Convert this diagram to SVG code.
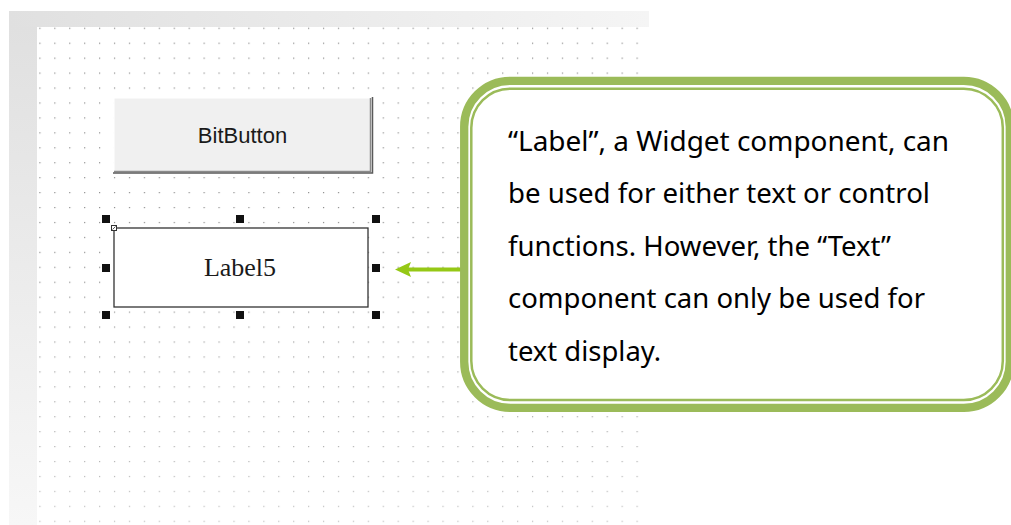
<svg xmlns="http://www.w3.org/2000/svg" width="1011" height="525" viewBox="0 0 1011 525">
  <style>
    .handle { fill: #111111; }
    .callout-text { font-family: "Noto Sans", "Open Sans", sans-serif; font-size: 26.5px; fill: #000000; }
    .btn-text { font-family: "Liberation Sans", Arial, sans-serif; font-size: 22px; fill: #1a1a1a; }
    .lbl-text { font-family: "Liberation Serif", "Times New Roman", serif; font-size: 26px; fill: #1a1a1a; }
  </style>
  <defs>
    <pattern id="dotGrid" x="39.3" y="27.7" width="14.93" height="14.94" patternUnits="userSpaceOnUse">
      <rect x="0" y="0" width="1.2" height="1.2" fill="#8c8c8c"/>
    </pattern>
    <linearGradient id="topBand" x1="0" y1="0" x2="1" y2="0">
      <stop offset="0" stop-color="#e0e0e0"/>
      <stop offset="1" stop-color="#f5f5f5"/>
    </linearGradient>
    <linearGradient id="leftBand" x1="0" y1="0" x2="0" y2="1">
      <stop offset="0" stop-color="#e0e0e0"/>
      <stop offset="1" stop-color="#f7f7f7"/>
    </linearGradient>
    <linearGradient id="topEdge" x1="0" y1="0" x2="1" y2="0">
      <stop offset="0" stop-color="#3a3a3a"/>
      <stop offset="0.7" stop-color="#8a8a8a"/>
      <stop offset="1" stop-color="#c8c8c8"/>
    </linearGradient>
    <linearGradient id="leftEdge" x1="0" y1="0" x2="0" y2="1">
      <stop offset="0" stop-color="#3a3a3a"/>
      <stop offset="0.75" stop-color="#777777"/>
      <stop offset="1" stop-color="#c0c0c0"/>
    </linearGradient>
    <linearGradient id="bottomFade" x1="0" y1="0" x2="0" y2="1">
      <stop offset="0" stop-color="#ffffff" stop-opacity="0"/>
      <stop offset="1" stop-color="#ffffff" stop-opacity="0.45"/>
    </linearGradient>
    <marker id="arrowHead" viewBox="0 0 16 15" refX="3" refY="7.5" markerWidth="16" markerHeight="15" markerUnits="userSpaceOnUse" orient="auto">
      <path d="M0,0 L16,7.5 L0,15 L3,7.5 Z" fill="#95c815"/>
    </marker>
  </defs>

  <!-- design surface: frame, dot grid and edges -->
  <g id="canvas">
    <rect x="9" y="11" width="640" height="16" fill="url(#topBand)"/>
    <rect x="9" y="27" width="28" height="498" fill="url(#leftBand)"/>
    <rect x="38" y="27" width="611" height="498" fill="#ffffff"/>
    <rect x="38" y="27" width="611" height="498" fill="url(#dotGrid)"/>
    <rect x="38" y="260" width="611" height="265" fill="url(#bottomFade)"/>
    <line x1="37" y1="26.5" x2="649" y2="26.5" stroke="url(#topEdge)" stroke-width="2"/>
    <line x1="37.5" y1="26" x2="37.5" y2="525" stroke="url(#leftEdge)" stroke-width="2"/>
  </g>

  <!-- BitButton widget -->
  <g id="bitbutton">
    <rect x="114" y="98" width="257" height="74" fill="#f0f0f0"/>
    <path d="M114,172 L114,98 L371,98" fill="none" stroke="#ffffff" stroke-width="1"/>
    <path d="M114,171.5 L370.5,171.5 L370.5,98" fill="none" stroke="#8a8a8a" stroke-width="1.5"/>
    <path d="M113,173 L372.5,173 L372.5,97" fill="none" stroke="#5a5a5a" stroke-width="1.5"/>
    <text x="242.5" y="143" text-anchor="middle" class="btn-text">BitButton</text>
  </g>

  <!-- Label5 widget with selection handles -->
  <g id="label5">
    <rect x="114" y="228" width="254" height="79" fill="#ffffff" stroke="#333333" stroke-width="1.3"/>
    <text x="240" y="276" text-anchor="middle" class="lbl-text">Label5</text>
    <rect x="111.5" y="225.5" width="5" height="5" fill="#ffffff" stroke="#333333" stroke-width="1"/>
    <line x1="112.5" y1="229.5" x2="115.5" y2="226.5" stroke="#333333" stroke-width="0.8"/>
    <rect class="handle" x="102" y="215" width="8" height="8"/>
    <rect class="handle" x="236" y="215" width="8" height="8"/>
    <rect class="handle" x="372" y="215" width="8" height="8"/>
    <rect class="handle" x="102" y="264" width="8" height="8"/>
    <rect class="handle" x="372" y="264" width="8" height="8"/>
    <rect class="handle" x="102" y="311" width="8" height="8" fill="#222222"/>
    <rect class="handle" x="236" y="311" width="8" height="8" fill="#222222"/>
    <rect class="handle" x="372" y="311" width="8" height="8" fill="#222222"/>
  </g>

  <!-- connector from the note to the label -->
  <g id="connectors">
    <line x1="462" y1="269.5" x2="408" y2="269.5" stroke="#95c815" stroke-width="4" marker-end="url(#arrowHead)"/>
  </g>

  <!-- explanatory note -->
  <g id="note">
    <rect x="464.2" y="80.8" width="545.6" height="327" rx="46" ry="46" fill="#ffffff" stroke="#9bbb59" stroke-width="8.3"/>
    <rect x="471.3" y="88.7" width="531.5" height="311.3" rx="39" ry="39" fill="none" stroke="#9bbb59" stroke-width="2.5"/>
    <text class="callout-text" x="508" y="151" textLength="441" lengthAdjust="spacingAndGlyphs">“Label”, a Widget component, can</text>
    <text class="callout-text" x="508" y="203.4" textLength="422" lengthAdjust="spacingAndGlyphs">be used for either text or control</text>
    <text class="callout-text" x="508" y="255.8" textLength="383" lengthAdjust="spacingAndGlyphs">functions. However, the “Text”</text>
    <text class="callout-text" x="508" y="308.2" textLength="417" lengthAdjust="spacingAndGlyphs">component can only be used for</text>
    <text class="callout-text" x="508" y="360.6" textLength="153" lengthAdjust="spacingAndGlyphs">text display.</text>
  </g>
</svg>
